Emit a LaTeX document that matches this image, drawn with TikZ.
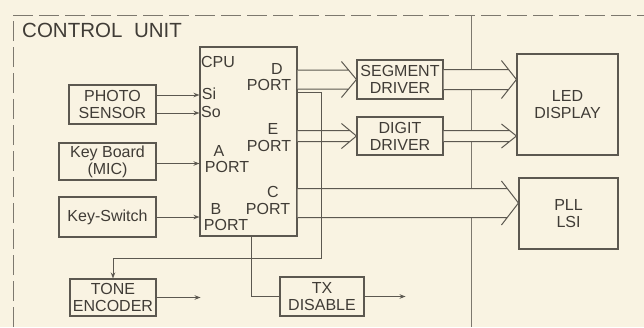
\documentclass[tikz,border=0pt]{standalone}
\usepackage{fontspec}
\setmainfont{Liberation Sans}
\usetikzlibrary{arrows.meta,calc}
\definecolor{bg}{RGB}{249,243,226}
\definecolor{ink}{RGB}{92,88,80}
\definecolor{txt}{RGB}{64,60,54}
\definecolor{faint}{RGB}{125,120,110}
\newcommand\busarrow[5]{%
  \fill[bg] let \p1=(#1), \p2=(#2) in
    (\x1,\y2+#3pt) -- (\x2-#5pt*#3/#4,\y2+#3pt) -- (\x2,\y2) -- (\x2-#5pt*#3/#4,\y2-#3pt) -- (\x1,\y2-#3pt) -- cycle;
  \draw[ln] let \p1=(#1), \p2=(#2) in
    (\x1,\y2+#3pt) -- (\x2-#5pt*#3/#4,\y2+#3pt)
    (\x1,\y2-#3pt) -- (\x2-#5pt*#3/#4,\y2-#3pt)
    (\x2-#5pt,\y2+#4pt) -- (\x2,\y2) -- (\x2-#5pt,\y2-#4pt);
}
\tikzset{
  box/.style={draw=ink, line width=1.1pt, inner sep=0pt, align=center, text=txt},
  lbl/.style={inner sep=0pt, text=txt},
  ln/.style={draw=ink, line width=1pt},
  conn/.style={draw=ink, line width=1pt},
  arr/.style={-{Stealth[length=6pt,width=4.5pt]}},
  framestyle/.style={draw=faint, line width=1pt, dash pattern=on 20pt off 6pt},
  divstyle/.style={draw=faint, line width=1pt}
}
\begin{document}
\begin{tikzpicture}[x=1pt,y=-1pt,font=\fontsize{16}{17}\selectfont]
\useasboundingbox (0,0) rectangle (644,327);
\fill[bg] (0,0) rectangle (644,327);
% frame and divider
\draw[framestyle] (13,327) -- (13,15) -- (644,15);
\draw[divstyle] (471,15) -- (471,327);
\node[lbl, anchor=west, font=\fontsize{20.5}{21}\selectfont] (cu) at (22,30) {CONTROL\hspace{6pt} UNIT};
% boxes
\node[box, minimum width=97pt, minimum height=189pt] (cpu) at (248.5,141.5) {};
\node[box, minimum width=87pt, minimum height=39pt] (photo) at (112.5,104.5) {PHOTO\\SENSOR};
\node[box, minimum width=97pt, minimum height=37pt] (kb) at (107.5,161.5) {Key Board\\(MIC)};
\node[box, minimum width=97pt, minimum height=40pt] (ks) at (107.5,217) {Key-Switch};
\node[box, minimum width=86pt, minimum height=37pt] (tone) at (113,297.5) {TONE\\ENCODER};
\node[box, minimum width=84pt, minimum height=39pt] (tx) at (322,296.5) {TX\\DISABLE};
\node[box, minimum width=86pt, minimum height=39pt] (seg) at (400,79.5) {SEGMENT\\DRIVER};
\node[box, minimum width=86pt, minimum height=38pt] (dig) at (400,136) {DIGIT\\DRIVER};
\node[box, minimum width=101pt, minimum height=101pt] (led) at (567.5,104.5) {LED\\DISPLAY};
\node[box, minimum width=99pt, minimum height=71pt] (pll) at (568.5,213.5) {PLL\\LSI};
% CPU labels
\node[lbl] (cpul) at (218,62) {CPU};
\node[lbl] (dl) at (277,68.5) {D};
\node[lbl] (dp) at (269,85) {PORT};
\node[lbl] (sil) at (209,94) {Si};
\node[lbl] (sol) at (211,112) {So};
\node[lbl] (el) at (273,129) {E};
\node[lbl] (ep) at (269,145.5) {PORT};
\node[lbl] (al) at (219,150.5) {A};
\node[lbl] (ap) at (227,167) {PORT};
\node[lbl] (cl) at (273,192) {C};
\node[lbl] (cp) at (268,209) {PORT};
\node[lbl] (bl) at (216,208.5) {B};
\node[lbl] (bp) at (226,225) {PORT};
% buses
\coordinate (ctip) at ($(pll.west)+(0,-10.5)$);
\busarrow{cpu.east}{seg.west}{9.5}{18}{15}
\busarrow{cpu.east}{dig.west}{5.5}{12.5}{15}
\busarrow{seg.east}{led.west |- seg.east}{10}{19}{15}
\busarrow{dig.east}{led.west |- dig.east}{5.5}{12}{15}
\busarrow{cpu.east}{ctip}{14.5}{22}{17}
% input arrows
\draw[conn,arr] (photo.east) ++(0,-9.5) coordinate (ps1) -- (ps1 -| cpu.west);
\draw[conn,arr] (photo.east) ++(0,8.5) coordinate (ps2) -- (ps2 -| cpu.west);
\draw[conn,arr] (kb.east) ++(0,2) coordinate (kbo) -- (kbo -| cpu.west);
\draw[conn,arr] (ks.east) -- (ks.east -| cpu.west);
% D port to tone encoder
\draw[conn,arr] (cpu.north east) ++(0,46) coordinate (dtap) -| ++(24,166) -| (tone.north);
% TX disable
\draw[conn] ([xshift=2.5pt]cpu.south) |- (tx.west);
% outputs
\draw[conn,arr] (tone.east) -- ++(44,0) coordinate (toneout);
\draw[conn,arr] (tx.east) -- ++(41,0) coordinate (txout);
\end{tikzpicture}
\end{document}
